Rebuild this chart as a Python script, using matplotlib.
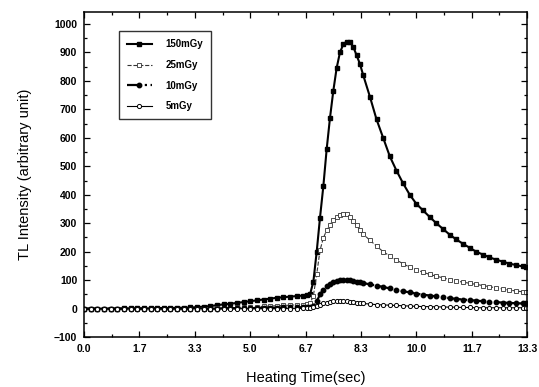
import matplotlib
matplotlib.use("Agg")
import matplotlib.pyplot as plt
from matplotlib.ticker import FixedLocator, MultipleLocator

plt.rcParams['font.family'] = ['Liberation Sans', 'DejaVu Sans']

time = [0.0, 0.2, 0.4, 0.6, 0.8, 1.0, 1.2, 1.4, 1.6, 1.8, 2.0, 2.2, 2.4, 2.6, 2.8,
        3.0, 3.2, 3.4, 3.6, 3.8, 4.0, 4.2, 4.4, 4.6, 4.8, 5.0, 5.2, 5.4, 5.6, 5.8,
        6.0, 6.2, 6.4, 6.6,
        6.7, 6.8, 6.9, 7.0, 7.1, 7.2, 7.3, 7.4, 7.5, 7.6, 7.7, 7.8, 7.9, 8.0, 8.1,
        8.2, 8.3, 8.4,
        8.6, 8.8, 9.0, 9.2, 9.4, 9.6, 9.8, 10.0, 10.2, 10.4, 10.6, 10.8, 11.0, 11.2,
        11.4, 11.6, 11.8, 12.0, 12.2, 12.4, 12.6, 12.8, 13.0, 13.2, 13.3]

mgy150 = [0, 0, 0, 0, 0, 0, 1, 1, 1, 1, 1, 2, 2, 2, 3, 3, 4, 5, 7, 9, 12, 15, 17, 20,
          23, 26, 29, 32, 35, 38, 40, 42, 44, 46,
          48, 50, 95, 200, 320, 430, 560, 670, 765, 845, 900, 928, 938, 935, 920,
          890, 860, 820,
          745, 665, 600, 535, 485, 440, 400, 368, 345, 322, 300, 280, 260, 243,
          228, 214, 200, 190, 180, 172, 165, 158, 153, 148, 146]

mgy25 = [0, 0, 0, 0, 0, 0, 0, 0, 0, 0, 0, 0, 0, 0, 0, 0, 0, 0, 0, 0,
         1, 2, 3, 4, 5, 6, 7, 8, 9, 10, 11, 12, 13, 14,
         15, 18, 45, 120, 205, 248, 275, 295, 310, 322, 330, 334, 332, 322, 308,
         292, 275, 262,
         240, 220, 200, 185, 170, 158, 145, 136, 128, 120, 114, 108, 102, 97,
         93, 89, 85, 81, 77, 73, 69, 65, 62, 59, 58]

mgy10 = [0, 0, 0, 0, 0, 0, 0, 0, 0, 0, 0, 0, 0, 0, 0, 0, 0, 0, 0, 0,
         0, 1, 1, 1, 2, 2, 2, 3, 3, 3, 4, 4, 4, 5,
         5, 6, 10, 25, 50, 66, 78, 87, 93, 97, 99, 100, 100, 99, 97,
         95, 92, 90,
         85, 81, 76, 71, 66, 61, 57, 53, 49, 46, 43, 40, 37, 34,
         32, 30, 28, 26, 24, 23, 21, 20, 19, 18, 18]

mgy5 = [0, 0, 0, 0, 0, 0, 0, 0, 0, 0, 0, 0, 0, 0, 0, 0, 0, 0, 0, 0,
        0, 0, 0, 0, 0, 0, 0, 0, 0, 0, 0, 0, 0, 1,
        1, 2, 4, 8, 13, 18, 21, 24, 26, 27, 27, 27, 26, 24, 22,
        20, 19, 18,
        16, 14, 13, 12, 11, 10, 9, 8, 7, 7, 6, 6, 5, 5,
        4, 4, 3, 3, 3, 3, 3, 3, 3, 3, 3]

series_labels = ['150mGy', '25mGy', '10mGy', '5mGy']
xtick_vals = [0.0, 13.333/8, 2*13.333/8, 3*13.333/8, 4*13.333/8, 5*13.333/8,
              6*13.333/8, 7*13.333/8, 13.333]
xtick_labels = ['0.0', '1.7', '3.3', '5.0', '6.7', '8.3', '10.0', '11.7', '13.3']
ytick_vals = [-100, 0, 100, 200, 300, 400, 500, 600, 700, 800, 900, 1000]

fig = plt.figure(figsize=(5.39, 3.87), dpi=100)
ax = fig.add_axes([0.156, 0.129, 0.822, 0.840])

ax.plot(time, mgy150, '-', color='black', lw=1.5, marker='s', ms=2.6,
        mfc='black', mec='black', label=series_labels[0])
ax.plot(time, mgy25, '--', color='#333333', lw=0.8, marker='s', ms=2.4,
        mfc='white', mec='#333333', mew=0.6, label=series_labels[1])
ax.plot(time, mgy10, '-.', color='black', lw=1.6, marker='o', ms=3.2,
        mfc='black', mec='black', label=series_labels[2])
ax.plot(time, mgy5, '-', color='black', lw=0.8, marker='o', ms=3.0,
        mfc='white', mec='black', mew=0.7, label=series_labels[3])

ax.set_xlim(0, 13.333)
ax.set_ylim(-100, 1042)
ax.xaxis.set_major_locator(FixedLocator(xtick_vals))
ax.set_xticklabels(xtick_labels)
ax.xaxis.set_minor_locator(MultipleLocator(13.333/16))
ax.yaxis.set_major_locator(FixedLocator(ytick_vals))
ax.yaxis.set_minor_locator(MultipleLocator(50))

ax.tick_params(which='both', direction='in', top=True, right=True,
               labelsize=7.5, width=0.9)
ax.tick_params(which='major', length=4, pad=5)
ax.tick_params(which='minor', length=2)
for lab in ax.get_xticklabels() + ax.get_yticklabels():
    lab.set_fontweight('bold')
for sp in ax.spines.values():
    sp.set_linewidth(1.1)

ax.set_xlabel('Heating Time(sec)', fontsize=10.5, labelpad=12)
ax.set_ylabel('TL Intensity (arbitrary unit)', fontsize=10.5, labelpad=16)

leg = ax.legend(loc='upper left', bbox_to_anchor=(0.068, 0.955), frameon=True,
                fancybox=False, edgecolor='black', numpoints=1,
                handlelength=2.6, labelspacing=1.1, borderpad=0.8,
                handletextpad=1.4, prop={'weight': 'bold', 'size': 7})
leg.get_frame().set_linewidth(1.0)

fig.savefig('out.png', dpi=100)
